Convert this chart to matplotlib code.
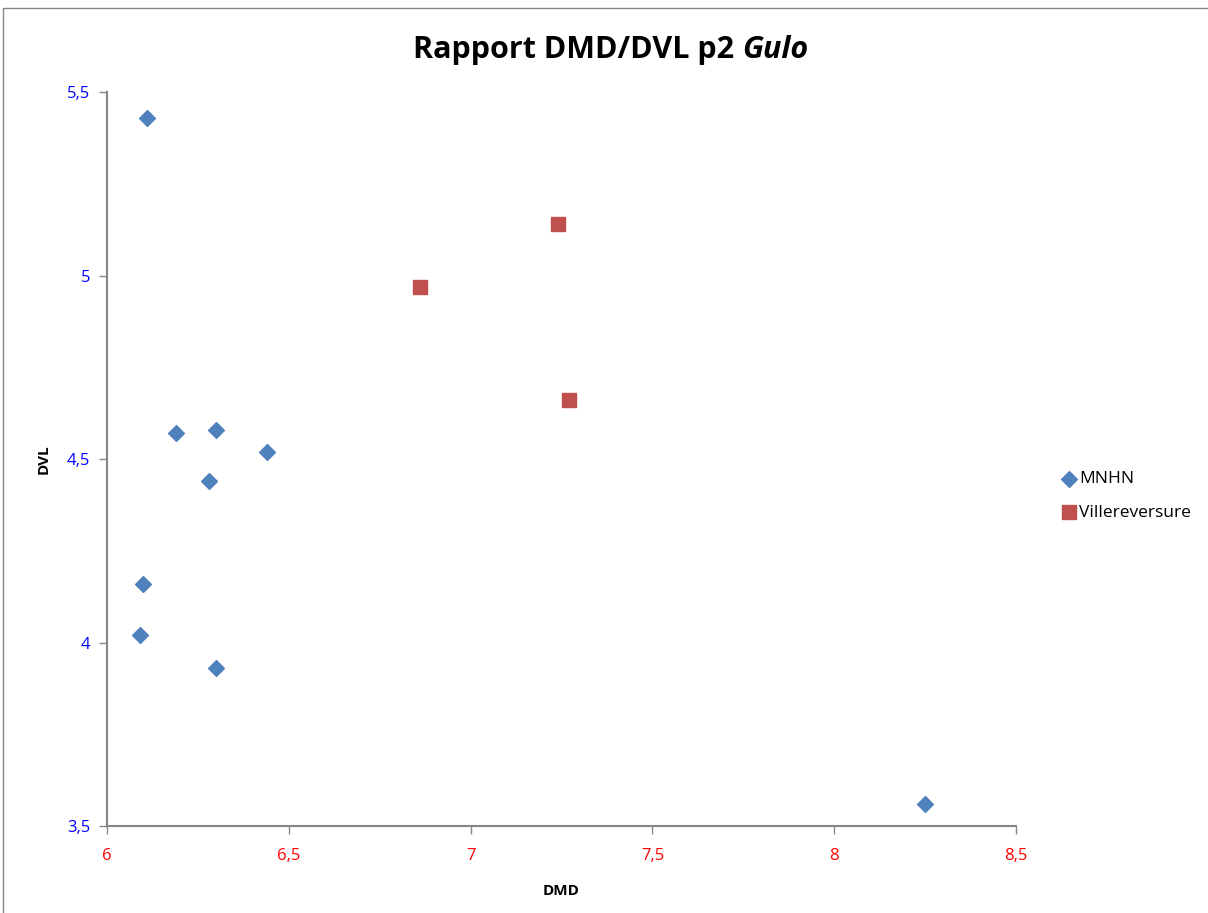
import matplotlib.pyplot as plt
from matplotlib.ticker import FuncFormatter

plt.rcParams['font.family'] = ['Open Sans', 'DejaVu Sans']

# data
mnhn_dmd = [6.11, 6.19, 6.30, 6.44, 6.28, 6.10, 6.09, 6.30, 8.25]
mnhn_dvl = [5.43, 4.57, 4.58, 4.52, 4.44, 4.16, 4.02, 3.93, 3.56]
ville_dmd = [6.86, 7.24, 7.27]
ville_dvl = [4.97, 5.14, 4.66]
x_ticks = [6, 6.5, 7, 7.5, 8, 8.5]
y_ticks = [3.5, 4, 4.5, 5, 5.5]

fig = plt.figure(figsize=(12.08, 9.13), dpi=100)
ax = fig.add_axes([0.0886, 0.0953, 0.7525, 0.8039])

ax.scatter(mnhn_dmd, mnhn_dvl, marker='D', s=65, color='#4F81BD',
           label='MNHN', zorder=3)
ax.scatter(ville_dmd, ville_dvl, marker='s', s=110, color='#C0504D',
           label='Villereversure', zorder=3)

ax.set_xlim(6, 8.5)
ax.set_ylim(3.5, 5.5)
ax.set_xticks(x_ticks)
ax.set_yticks(y_ticks)

# french decimal comma
comma = FuncFormatter(lambda v, p: f"{v:g}".replace('.', ','))
ax.xaxis.set_major_formatter(comma)
ax.yaxis.set_major_formatter(comma)

for side in ['top', 'right']:
    ax.spines[side].set_visible(False)
for side in ['left', 'bottom']:
    ax.spines[side].set_color('#868686')
    ax.spines[side].set_linewidth(1.5)

ax.tick_params(axis='x', colors='#868686', labelcolor='red', labelsize=12,
               length=6, width=1, pad=10)
ax.tick_params(axis='y', colors='#868686', labelcolor='blue', labelsize=12,
               length=6, width=1, pad=6)

ax.set_xlabel('DMD', fontsize=11, fontweight='bold', labelpad=14)
ax.set_ylabel('DVL', fontsize=11, fontweight='bold', labelpad=12)

# title in two pieces so the genus name is bold italic
fig.text(0.614, 0.945, 'Rapport DMD/DVL p2 ', ha='right', va='center',
         fontsize=22, fontweight='bold')
fig.text(0.614, 0.945, 'Gulo', ha='left', va='center',
         fontsize=22, fontweight='bold', fontstyle='italic')

ax.legend(loc='center left', bbox_to_anchor=(0.872, 0.457),
          bbox_transform=fig.transFigure, frameon=False, fontsize=12.5,
          handletextpad=0.1, labelspacing=1.0, handlelength=1.0,
          borderaxespad=0)

# chart frame line as in the spreadsheet export
frame = plt.Rectangle((3 / 1208, -0.05), 1.1, 1 - 8 / 913 + 0.05,
                      transform=fig.transFigure, fill=False,
                      edgecolor='#868686', linewidth=1, clip_on=False)
fig.patches.append(frame)

fig.savefig('out.png', dpi=100)
